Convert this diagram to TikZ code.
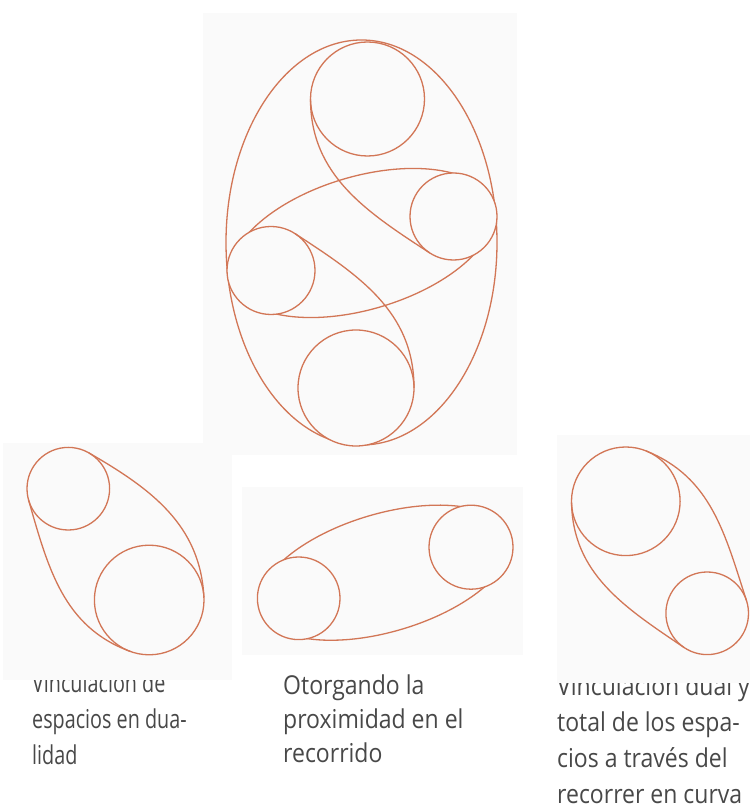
\documentclass[tikz,border=0pt]{standalone}
\usepackage{fontspec}
\newfontfamily\capfont[FakeStretch=0.885]{Open Sans}
\newfontfamily\capnarrow[FakeStretch=0.76]{Open Sans}
\definecolor{trazo}{RGB}{210,118,86}
\definecolor{texto}{RGB}{72,72,72}
\definecolor{panel}{RGB}{250,250,250}
\tikzset{
  ring/.style={circle, draw=trazo, fill=panel, line width=1.3pt, inner sep=0pt, outer sep=0pt, minimum size=#1},
  belt/.style={draw=trazo, line width=1.3pt},
  caption/.style={anchor=base west, align=left, inner sep=0pt, text=texto,
    font=\capfont\fontsize{26}{36}\selectfont},
  panel/.style={fill=panel, draw=none}
}
\begin{document}
\begin{tikzpicture}[x=1pt, y=1pt]
    \useasboundingbox (0,0) rectangle (750,808);

    % Captions (placed by last baseline; first lines sit under the panels)
    \node[caption, font=\capnarrow\fontsize{26}{36}\selectfont] (capA) at (32,43) {Vinculación de\\espacios en dua-\\lidad};
    \node[caption, font=\capfont\fontsize{26}{34}\selectfont] (capB) at (283,45) {Otorgando la\\proximidad en el\\recorrido};
    \node[caption] (capC) at (557,5) {Vinculación dual y\\total de los espa-\\cios a través del\\recorrer en curva};

    % Panels
    \fill[panel] (203,353) rectangle (517,795);
    \fill[panel] (3,128) rectangle (232,365);
    \fill[panel] (242,153) rectangle (523,321);
    \fill[panel] (557,125) rectangle (750,373);

    % Main figure: outer ellipse, lens, four circles
    \draw[belt] (361.5,565.5) ellipse [x radius=135.5, y radius=202.5];
    \draw[belt] (362,565) ellipse [x radius=136, y radius=66.5, rotate=16.5];
    \node[ring=114pt] (top) at (367.5,709) {};
    \node[ring=87pt] (right) at (453.5,591.5) {};
    \node[ring=88pt] (left) at (271,537.5) {};
    \node[ring=116pt] (bottom) at (356,420) {};

    % S-curves
    \draw[belt] (top.180) to[out=270, in=147] (right.237);
    \draw[belt] (left.57) to[out=-33, in=90] (bottom.0);

    % A: dual link (small top, big bottom)
    \node[ring=82.6pt] (smallA) at (68.3,319.3) {};
    \node[ring=109.6pt] (bigA) at (149.2,208) {};
    \draw[belt] (smallA.60) to[out=-30, in=93] (bigA.3);
    \draw[belt] (smallA.196) to[out=286, in=160] (bigA.250);

    % B: proximity
    \draw[belt] (384.9,235.3) ellipse [x radius=130, y radius=59, rotate=16.5];
    \node[ring=82.6pt] (leftB) at (298.7,209.7) {};
    \node[ring=84pt] (rightB) at (471,260.8) {};

    % C: dual and total link (big top, small bottom)
    \node[ring=108.6pt] (bigC) at (625.8,306.7) {};
    \node[ring=82.6pt] (smallC) at (707.2,194.7) {};
    \draw[belt] (bigC.68) to[out=-22, in=108] (smallC.18);
    \draw[belt] (bigC.181) to[out=271, in=146] (smallC.236);
\end{tikzpicture}
\end{document}
